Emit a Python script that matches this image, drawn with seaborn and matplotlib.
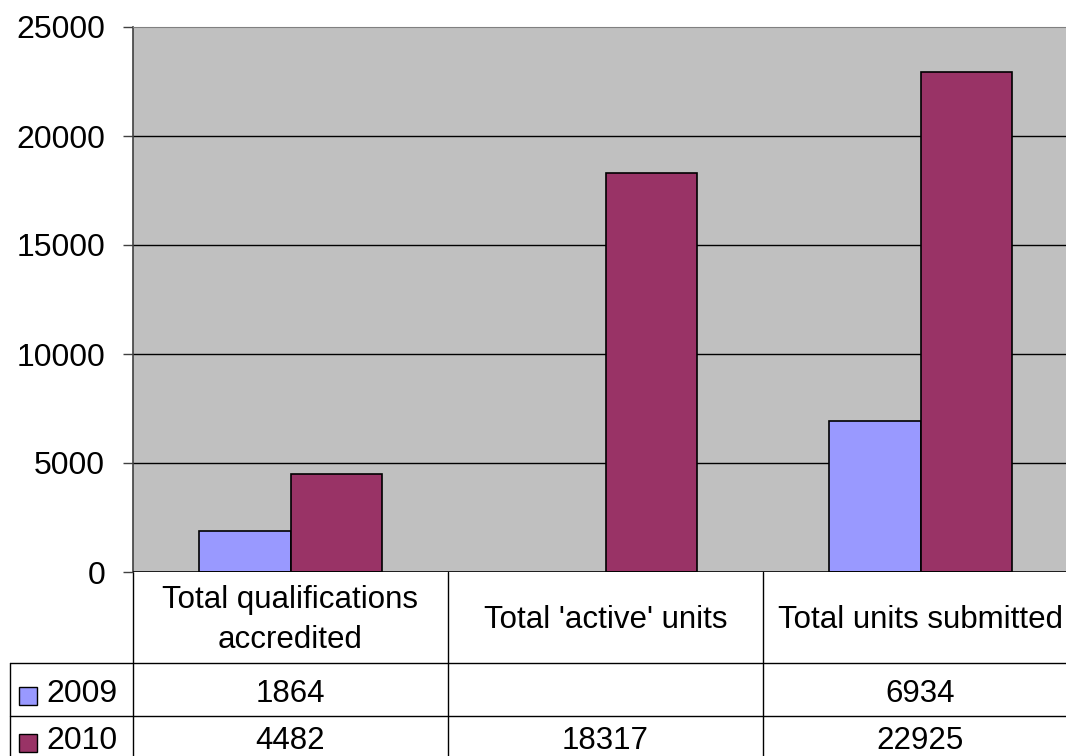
import numpy as np
import pandas as pd
import matplotlib

matplotlib.use("Agg")
import matplotlib.pyplot as plt
import matplotlib.transforms as mtransforms
from matplotlib.lines import Line2D
from matplotlib.patches import Rectangle
import seaborn as sns

categories = ["Total qualifications\naccredited", "Total 'active' units", "Total units submitted"]
years = ["2009", "2010"]
values_2009 = [1864, np.nan, 6934]
values_2010 = [4482, 18317, 22925]
yticks = [0, 5000, 10000, 15000, 20000, 25000]

colors = {"2009": "#9999FF", "2010": "#993366"}

W, H = 1066, 756

rows = []
for cat, v9, v10 in zip(categories, values_2009, values_2010):
    rows.append({"category": cat, "year": "2009", "value": v9})
    rows.append({"category": cat, "year": "2010", "value": v10})
df = pd.DataFrame(rows).dropna()

sns.set_style("white")
plt.rcParams["font.family"] = ["Liberation Sans", "DejaVu Sans"]
plt.rcParams["text.color"] = "black"
plt.rcParams["ytick.color"] = "black"

fig = plt.figure(figsize=(W / 100, H / 100), dpi=100)
# axes: x 133..1078 px, y 27..572 px (right part runs past the image edge)
ax = fig.add_axes([133 / W, (H - 572) / H, 945 / W, 545 / H])
ax.set_facecolor("#C0C0C0")

sns.barplot(
    data=df,
    x="category",
    y="value",
    hue="year",
    order=categories,
    hue_order=years,
    palette=colors,
    saturation=1,
    width=0.58,
    errorbar=None,
    edgecolor="black",
    linewidth=1.2,
    ax=ax,
    zorder=3,
)

ax.set_ylim(0, 25000)
ax.set_xlim(-0.5, len(categories) - 0.5)
ax.set_yticks(yticks)
ax.set_yticklabels([str(t) for t in yticks], fontsize=23)
ax.tick_params(axis="y", length=7, width=1, color="#404040", labelcolor="black",
               pad=13, left=True)
ax.set_xticks([])
ax.set_xlabel("")
ax.set_ylabel("")
ax.legend_.remove()
for t in yticks[1:-1]:
    ax.axhline(t, color="black", lw=1, zorder=1)
ax.axhline(0, color="black", lw=1.2, zorder=4)

for side in ["right", "bottom"]:
    ax.spines[side].set_visible(False)
ax.spines["top"].set_color("#808080")
ax.spines["left"].set_color("#404040")
ax.spines["left"].set_linewidth(1.2)

# data table under the plot
trans = mtransforms.blended_transform_factory(ax.transData, ax.transAxes)
y_head = -0.167
y_r1 = -0.264
y_bottom = -0.40
x_lab = (10 - 133) / 945

line_kw = dict(color="black", lw=1, clip_on=False)
for i in range(len(categories)):
    ax.add_line(Line2D([i - 0.5, i - 0.5], [0, y_bottom], transform=trans, **line_kw))
ax.add_line(Line2D([x_lab, 1], [y_head, y_head], transform=ax.transAxes, **line_kw))
ax.add_line(Line2D([x_lab, 1], [y_r1, y_r1], transform=ax.transAxes, **line_kw))
ax.add_line(Line2D([x_lab, x_lab], [y_head, y_bottom], transform=ax.transAxes, **line_kw))

for i, cat in enumerate(categories):
    ax.text(i, y_head / 2 - 0.005, cat, transform=trans, ha="center", va="center",
            fontsize=22.5, linespacing=1.45, clip_on=False)

row_centers = [(y_head + y_r1) / 2 - 0.008, -0.3105]
for year, vals, yc in zip(years, [values_2009, values_2010], row_centers):
    for i, v in enumerate(vals):
        txt = "" if np.isnan(v) else f"{int(v)}"
        ax.text(i, yc, txt, transform=trans, ha="center", va="center",
                fontsize=22.5, clip_on=False)
    sq = 18 / 545
    ax.add_patch(Rectangle(((19 - 133) / 945, yc - sq / 2 - 0.004), 18 / 945, sq,
                           transform=ax.transAxes, facecolor=colors[year],
                           edgecolor="black", lw=1, clip_on=False))
    ax.text((46 - 133) / 945, yc, year, transform=ax.transAxes, ha="left",
            va="center", fontsize=23, clip_on=False)

fig.savefig("out.png", dpi=100)
